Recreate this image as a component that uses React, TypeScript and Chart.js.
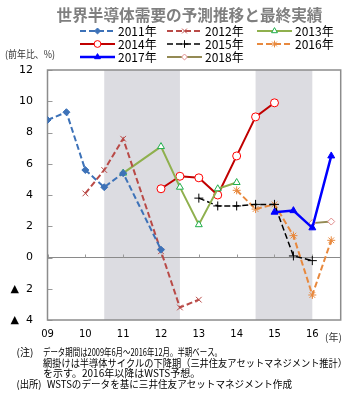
import React, { useEffect, useRef } from 'react';
import { Chart, registerables } from 'chart.js';
import { drawPoint } from 'chart.js/helpers';

Chart.register(...registerables);

// half-year periods (index 0 = 2009 H1)
const periods = ['09H1', '09H2', '10H1', '10H2', '11H1', '11H2', '12H1', '12H2', '13H1', '13H2', '14H1', '14H2', '15H1', '15H2', '16H1', '16H2'];
const yearTicks = ['09', '10', '11', '12', '13', '14', '15', '16'];

const s2011 = [8.8, 9.3, 5.6, 4.5, 5.4, null, 0.5, null, null, null, null, null, null, null, null, null];
const s2012 = [null, null, 4.1, 5.6, 7.6, null, 0.4, -3.2, -2.7, null, null, null, null, null, null, null];
const s2013 = [null, null, null, null, 5.4, null, 7.1, 4.5, 2.1, 4.4, 4.8, null, null, null, null, null];
const s2014 = [null, null, null, null, null, null, 4.4, 5.2, 5.1, 4.0, 6.5, 9.0, 9.9, null, null, null];
const s2015 = [null, null, null, null, null, null, null, null, 3.8, 3.3, 3.3, 3.4, 3.4, 0.1, -0.2, null];
const s2016 = [null, null, null, null, null, null, null, null, null, null, 4.3, 3.1, 3.4, 1.4, -2.4, 1.1];
const s2017 = [null, null, null, null, null, null, null, null, null, null, null, null, 2.9, 3.0, 1.9, 6.5];
const s2018 = [null, null, null, null, null, null, null, null, null, null, null, null, null, null, 2.2, 2.3];

const seriesNames = ['2011年', '2012年', '2013年', '2014年', '2015年', '2016年', '2017年', '2018年'];
const seriesValues = [s2011, s2012, s2013, s2014, s2015, s2016, s2017, s2018];

// shaded downturn periods (start / end period index)
const bandStart = [3, 11];
const bandEnd = [7, 14];

const yTicks = [-4, -2, 0, 2, 4, 6, 8, 10, 12];

const notes = [
  ['(注)', 'データ期間は2009年6月～2016年12月。半期ベース。'],
  ['', '網掛けは半導体サイクルの下降期（三井住友アセットマネジメント推計）'],
  ['', 'を示す。2016年以降はWSTS予想。'],
  ['(出所)', 'WSTSのデータを基に三井住友アセットマネジメント作成'],
];

type Sty = { line: string; width: number; dash: number[]; point: string; radius: number; bg: string; border: string; bw: number };
const styles: Sty[] = [
  { line: '#3d72b8', width: 2, dash: [6, 3], point: 'rectRot', radius: 3.5, bg: '#3d72b8', border: '#3d72b8', bw: 1 },
  { line: '#b94a47', width: 2, dash: [6, 3], point: 'crossRot', radius: 4, bg: '#b94a47', border: '#b94a47', bw: 1 },
  { line: '#8fb04e', width: 2, dash: [], point: 'triangle', radius: 4, bg: '#ffffff', border: '#1fae4b', bw: 1 },
  { line: '#c00000', width: 2, dash: [], point: 'circle', radius: 4, bg: '#ffffff', border: '#ff0000', bw: 1 },
  { line: '#000000', width: 1.5, dash: [6, 3], point: 'cross', radius: 4.5, bg: '#000000', border: '#000000', bw: 1 },
  { line: '#e8893e', width: 2, dash: [6, 3], point: 'star', radius: 4, bg: '#e8893e', border: '#e8893e', bw: 1 },
  { line: '#0000ff', width: 2.5, dash: [], point: 'triangle', radius: 4, bg: '#0000ff', border: '#0000ff', bw: 1 },
  { line: '#948a54', width: 2, dash: [], point: 'rectRot', radius: 3.5, bg: '#ffffff', border: '#e08c8c', bw: 1 },
];

const JP = "'Noto Sans CJK JP', 'Noto Sans', sans-serif";

const decorPlugin = {
  id: 'decor',
  beforeDraw(chart: any) {
    const { ctx, chartArea: a, scales } = chart;
    const x = scales.x;
    ctx.save();
    ctx.fillStyle = '#dcdce1';
    for (let i = 0; i < bandStart.length; i++) {
      const x0 = x.getPixelForValue(bandStart[i]);
      const x1 = x.getPixelForValue(bandEnd[i]);
      ctx.fillRect(x0, a.top, x1 - x0, a.bottom - a.top);
    }
    ctx.restore();
  },
  beforeDatasetsDraw(chart: any) {
    const { ctx, chartArea: a, scales } = chart;
    const x = scales.x;
    const y = scales.y;
    ctx.save();
    const y0 = y.getPixelForValue(0);
    ctx.strokeStyle = '#8a8a8a';
    ctx.lineWidth = 1;
    ctx.beginPath();
    ctx.moveTo(a.left, y0);
    ctx.lineTo(a.right, y0);
    ctx.stroke();
    ctx.strokeStyle = '#9a9a9a';
    ctx.beginPath();
    for (const v of yTicks) {
      const py = Math.round(y.getPixelForValue(v)) + 0.5;
      ctx.moveTo(a.left, py);
      ctx.lineTo(a.left + 5, py);
    }
    for (let i = 0; i < yearTicks.length; i++) {
      const px = Math.round(x.getPixelForValue(i * 2)) + 0.5;
      ctx.moveTo(px, y0);
      ctx.lineTo(px, y0 - 3);
    }
    ctx.stroke();
    ctx.strokeStyle = '#8c8c8c';
    ctx.lineWidth = 1.5;
    ctx.strokeRect(a.left, a.top, a.right - a.left, a.bottom - a.top);
    ctx.restore();
  },
  afterDraw(chart: any) {
    const { ctx } = chart;
    ctx.save();
    // title
    ctx.fillStyle = '#7f7f7f';
    ctx.font = `bold 16px ${JP}`;
    ctx.textAlign = 'center';
    ctx.textBaseline = 'middle';
    ctx.fillText('世界半導体需要の予測推移と最終実績', 189.5, 15, 266);

    // legend
    const cols = [80, 167, 257];
    const rows = [31, 44, 57];
    ctx.textAlign = 'left';
    for (let i = 0; i < seriesNames.length; i++) {
      const s = styles[i];
      const lx = cols[i % 3];
      const ly = rows[Math.floor(i / 3)];
      ctx.save();
      ctx.strokeStyle = s.line;
      ctx.lineWidth = s.width;
      ctx.setLineDash(s.dash);
      ctx.beginPath();
      ctx.moveTo(lx, ly);
      ctx.lineTo(lx + 35, ly);
      ctx.stroke();
      ctx.setLineDash([]);
      ctx.fillStyle = s.bg;
      ctx.strokeStyle = s.border;
      ctx.lineWidth = s.bw;
      drawPoint(ctx, { pointStyle: s.point as any, rotation: 0, radius: s.radius * 0.85, borderWidth: s.bw }, lx + 17.5, ly);
      ctx.restore();
      ctx.fillStyle = '#000';
      ctx.font = `12px ${JP}`;
      ctx.textBaseline = 'middle';
      ctx.fillText(seriesNames[i], lx + 38, ly + 0.5);
    }

    // unit labels
    ctx.fillStyle = '#333';
    ctx.font = `10px ${JP}`;
    ctx.fillText('(前年比、%)', 5, 54.5, 50);
    ctx.fillText('(年)', 325, 337, 17);

    // notes
    ctx.fillStyle = '#000';
    ctx.font = `10px ${JP}`;
    const ny = [352.5, 363, 373.5, 384];
    const nx = [43, 43, 43, 47];
    const nw = [179, 304, 184, 245];
    for (let i = 0; i < notes.length; i++) {
      if (notes[i][0]) ctx.fillText(notes[i][0], 16.5, ny[i], i === 3 ? 25 : 21);
      ctx.fillText(notes[i][1], nx[i], ny[i], nw[i]);
    }
    ctx.restore();
  },
};

export default function App() {
  const ref = useRef<HTMLCanvasElement>(null);
  useEffect(() => {
    if (!ref.current) return;
    const datasets = seriesValues.map((vals, i) => {
      const s = styles[i];
      return {
        label: seriesNames[i],
        data: vals.map((v, k) => ({ x: k, y: v, p: periods[k] })),
        borderColor: s.line,
        borderWidth: s.width,
        borderDash: s.dash,
        pointStyle: s.point,
        pointRadius: s.radius,
        pointBackgroundColor: s.bg,
        pointBorderColor: s.border,
        pointBorderWidth: s.bw,
        spanGaps: true,
        fill: false,
        tension: 0,
        order: i === 6 ? -1 : i,
      };
    });
    const chart = new Chart(ref.current, {
      type: 'line',
      data: { datasets: datasets as any },
      options: {
        animation: false,
        responsive: false,
        events: [],
        layout: { padding: { top: 70, left: 0, right: 22.3, bottom: 0 } },
        plugins: { legend: { display: false }, title: { display: false }, tooltip: { enabled: false } },
        scales: {
          x: {
            type: 'linear',
            min: 0,
            max: 15.5,
            grid: { display: false, drawTicks: false },
            border: { display: false },
            afterBuildTicks: (scale: any) => {
              scale.ticks = yearTicks.map((_, i) => ({ value: i * 2 }));
            },
            afterFit: (scale: any) => {
              scale.height = 78;
            },
            ticks: {
              padding: 8,
              autoSkip: false,
              maxRotation: 0,
              color: '#000',
              font: { family: 'DejaVu Sans', size: 10 },
              callback: (v: any) => yearTicks[Math.round(Number(v) / 2)] ?? '',
            },
          },
          y: {
            type: 'linear',
            min: -4,
            max: 12,
            grid: { display: false, drawTicks: false },
            border: { display: false },
            afterBuildTicks: (scale: any) => {
              scale.ticks = yTicks.map((v) => ({ value: v }));
            },
            afterFit: (scale: any) => {
              scale.width = 47.5;
            },
            ticks: {
              padding: 14.5,
              color: '#000',
              font: { family: 'DejaVu Sans', size: 11 },
              callback: (v: any) => (Number(v) < 0 ? '▲  ' + Math.abs(Number(v)) : String(v)),
            },
          },
        },
      },
      plugins: [decorPlugin],
    });
    return () => chart.destroy();
  }, []);
  return (
    <div style={{ position: 'fixed', left: 0, top: 0, width: 363, height: 398, background: '#fff' }}>
      <canvas ref={ref} width={363} height={398} />
    </div>
  );
}
